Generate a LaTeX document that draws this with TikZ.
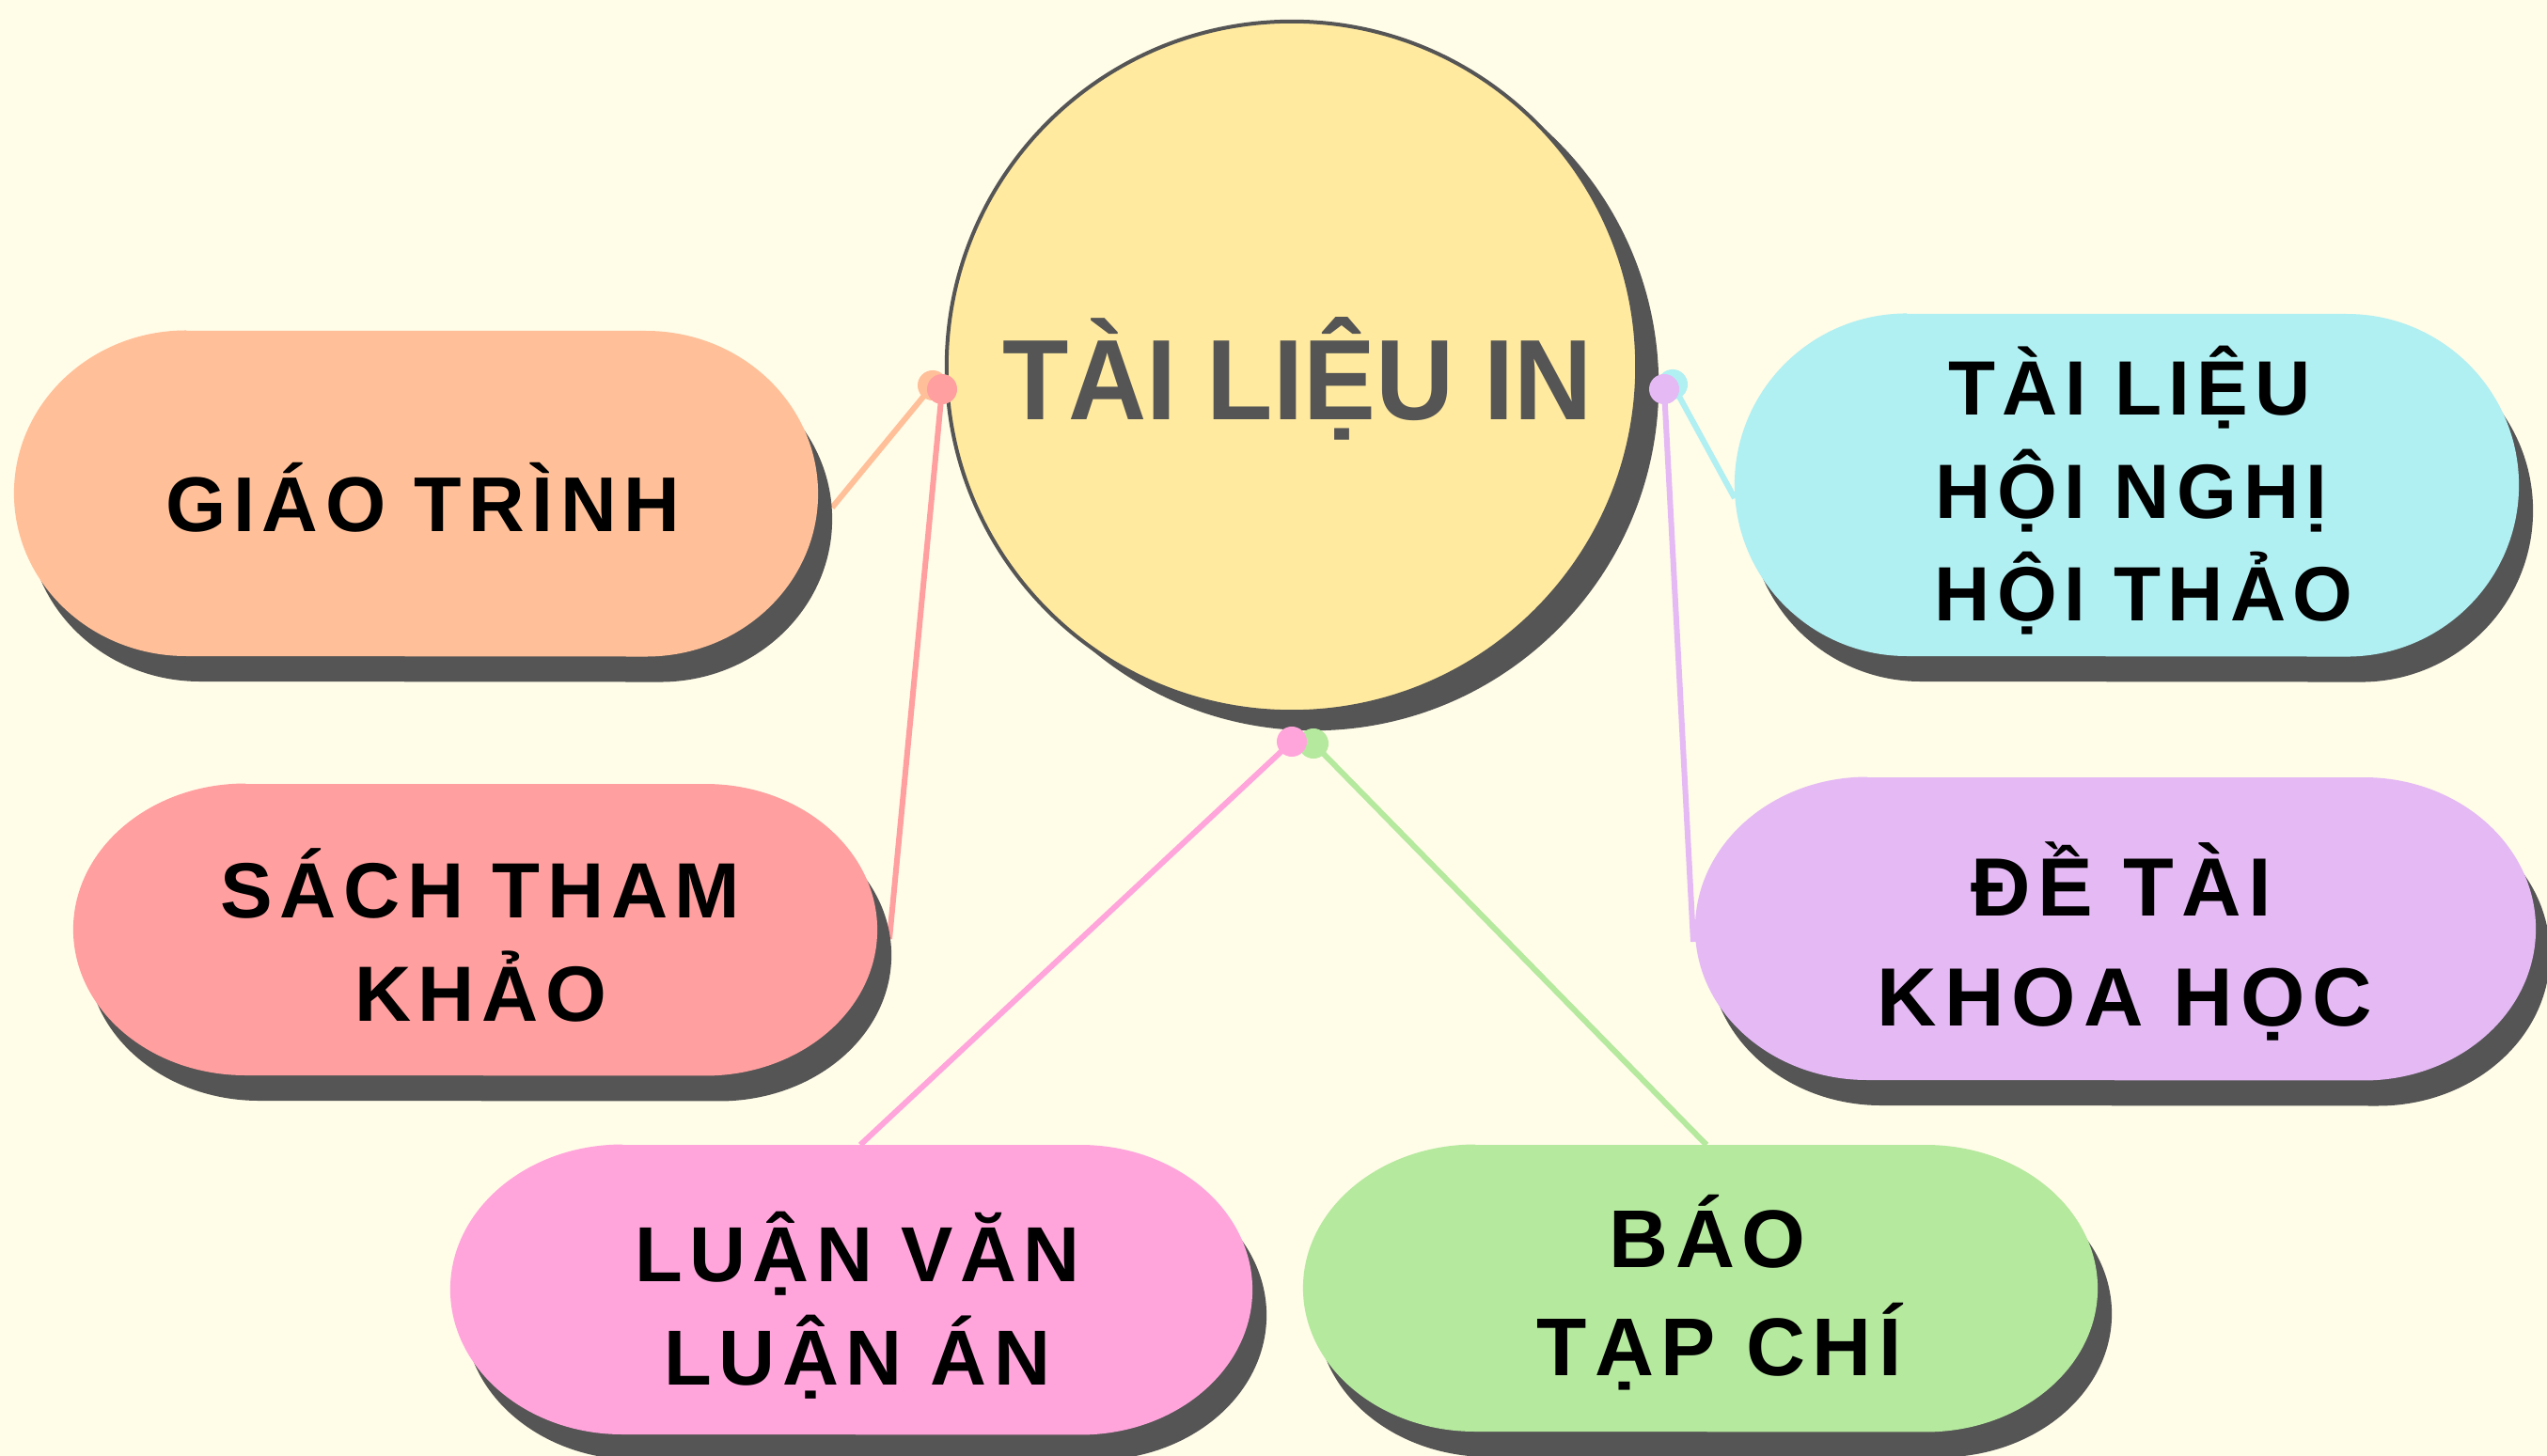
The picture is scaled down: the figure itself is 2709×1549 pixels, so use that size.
\documentclass[tikz,border=0pt]{standalone}
\usepackage{fontspec}
\usepackage{graphicx}
\setmainfont{Liberation Sans}
\newfontfamily\pillfont[LetterSpace=9]{Liberation Sans}
\newfontfamily\titlefont{Liberation Sans}
\usetikzlibrary{shadows}
\definecolor{bgcol}{HTML}{FFFCE8}
\definecolor{dark}{HTML}{555555}
\definecolor{hubfill}{HTML}{FFEA9F}
\definecolor{corange}{HTML}{FFC099}
\definecolor{csalmon}{HTML}{FF9F9F}
\definecolor{cpink}{HTML}{FFA5DC}
\definecolor{cgreen}{HTML}{B5E99E}
\definecolor{ccyan}{HTML}{B0EFF2}
\definecolor{cpurple}{HTML}{E4B9F4}
% pill outline: x0, y0, x1, y1 in pixel units (y downward)
\newcommand\pillpath[4]{(#1+183,#2) -- (#3-183,#2) arc[start angle=90, end angle=-90, x radius=1.83cm, y radius={(#4-#2)*0.005cm}] -- (#1+183,#4) arc[start angle=270, end angle=90, x radius=1.83cm, y radius={(#4-#2)*0.005cm}] -- cycle}
% shadow + fill of a pill
\newcommand\drawpill[5]{%
  \fill[dark, xshift=0.15cm, yshift=-0.27cm] \pillpath{#1}{#2}{#3}{#4};
  \fill[#5] \pillpath{#1}{#2}{#3}{#4};
}
\tikzset{
  hubstyle/.style={circle, minimum size=7.34cm, inner sep=0pt, fill=hubfill, draw=dark, line width=0.04cm,
    drop shadow={shadow xshift=0.23cm, shadow yshift=-0.20cm, fill=dark, opacity=1}},
  pillbox/.style n args={2}{rectangle, inner sep=0pt, minimum width=#1, minimum height=#2},
  pilltext/.style={anchor=base, inner sep=0pt, text=black, font=\pillfont\bfseries\fontsize{#1}{31pt}\selectfont},
  titletext/.style={anchor=base, inner sep=0pt, text=dark, font=\titlefont\bfseries\fontsize{34.6pt}{40pt}\selectfont},
  dotstyle/.style={circle, inner sep=0pt, minimum size=0.32cm, fill=#1},
  conn/.style={draw=#1, line width=0.06cm}
}
\begin{document}
\begin{tikzpicture}[x=0.01cm, y=-0.01cm]
\fill[bgcol] (0,0) rectangle (2709,1549);
\useasboundingbox (0,0) rectangle (2709,1549);

% connector end points
\coordinate (eG) at (885,540);
\coordinate (eS) at (946,999);
\coordinate (eL) at (915,1218);
\coordinate (eB) at (1815,1218);
\coordinate (eH) at (1845,530);
\coordinate (eD) at (1801,1002);
\coordinate (pG) at (992,410);
\coordinate (pS) at (1002,414);
\coordinate (pL) at (1374,789);
\coordinate (pB) at (1397,791);
\coordinate (pH) at (1779,409);
\coordinate (pD) at (1770,414);

% connectors
\draw[conn=corange] (pG) -- (eG);
\draw[conn=csalmon] (pS) -- (eS);
\draw[conn=cpink] (pL) -- (eL);
\draw[conn=cgreen] (pB) -- (eB);
\draw[conn=ccyan] (pH) -- (eH);
\draw[conn=cpurple] (pD) -- (eD);

% hub
\node[hubstyle] (hub) at (1374,390) {};
\node[titletext] (title) at (1380,447) {\scalebox{0.947}[1]{TÀI LIỆU IN}};

% pills
\drawpill{15}{352}{870}{698}{corange}
\drawpill{78}{834}{933}{1144}{csalmon}
\drawpill{479}{1218}{1332}{1526}{cpink}
\drawpill{1386}{1218}{2231}{1523}{cgreen}
\drawpill{1845}{334}{2679}{698}{ccyan}
\drawpill{1803}{827}{2697}{1149}{cpurple}
\node[pillbox={8.55cm}{3.46cm}] (giao) at (442.5,525) {};
\node[pillbox={8.55cm}{3.10cm}] (sach) at (505.5,989) {};
\node[pillbox={8.53cm}{3.08cm}] (luan) at (905.5,1372) {};
\node[pillbox={8.45cm}{3.05cm}] (bao) at (1808.5,1370.5) {};
\node[pillbox={8.34cm}{3.64cm}] (hoi) at (2262,516) {};
\node[pillbox={8.94cm}{3.22cm}] (detai) at (2250,988) {};

% pill texts
\node[pilltext=23.5pt] (giaoT) at (450,565) {GIÁO TRÌNH};
\node[pilltext=23.7pt] (sachT1) at (511,976) {SÁCH THAM};
\node[pilltext=23.7pt] (sachT2) at (511,1086) {KHẢO};
\node[pilltext=23.6pt] (luanT1) at (912,1363) {LUẬN VĂN};
\node[pilltext=23.6pt] (luanT2) at (912,1473) {LUẬN ÁN};
\node[pilltext=24.8pt] (baoT1) at (1816,1348) {BÁO};
\node[pilltext=24.8pt] (baoT2) at (1829,1463) {TẠP CHÍ};
\node[pilltext=23.3pt] (hoiT1) at (2265,442) {TÀI LIỆU};
\node[pilltext=23.3pt] (hoiT2) at (2267,551) {HỘI NGHỊ};
\node[pilltext=23.3pt] (hoiT3) at (2280,660) {HỘI THẢO};
\node[pilltext=25pt] (deT1) at (2256,974) {ĐỀ TÀI};
\node[pilltext=25pt] (deT2) at (2260,1091) {KHOA HỌC};

% dots on top
\node[dotstyle=corange] (dG) at (pG) {};
\node[dotstyle=csalmon] (dS) at (pS) {};
\node[dotstyle=cgreen] (dB) at (pB) {};
\node[dotstyle=cpink] (dL) at (pL) {};
\node[dotstyle=ccyan] (dH) at (pH) {};
\node[dotstyle=cpurple] (dD) at (pD) {};
\end{tikzpicture}
\end{document}
